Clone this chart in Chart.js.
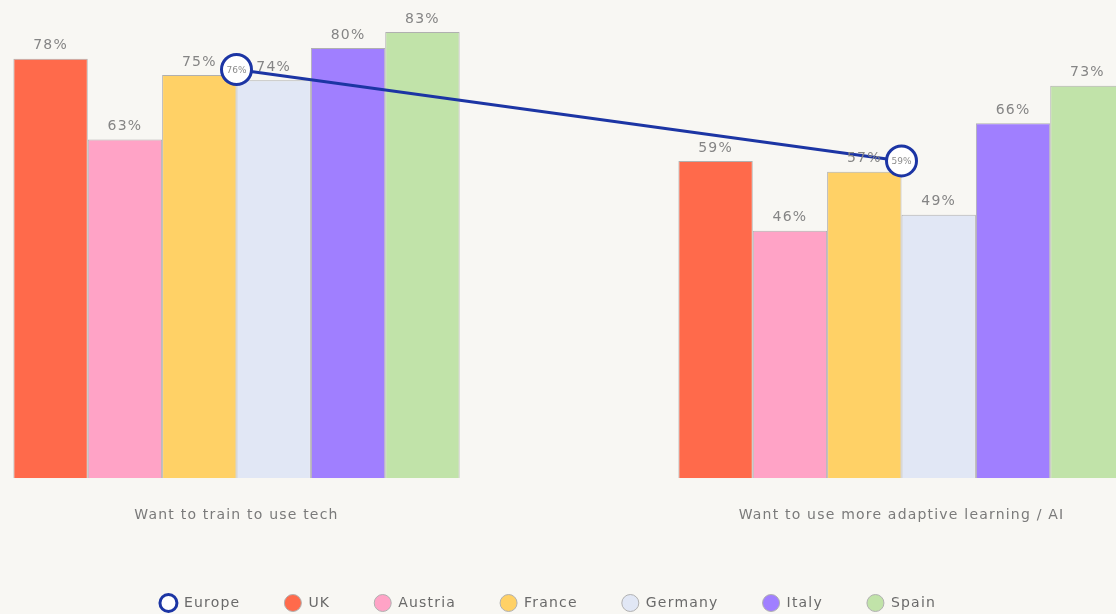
<!DOCTYPE html>
<html>
<head>
<meta charset="utf-8">
<script src="https://cdn.jsdelivr.net/npm/chart.js@4"></script>
<style>
  html, body { margin: 0; padding: 0; background: #f8f7f3; overflow: hidden; }
  body { width: 1116px; height: 614px; position: relative; }
  #wrap { position: absolute; left: -96px; top: 0; width: 1330px; height: 621px; }
</style>
</head>
<body>
<div id="wrap"><canvas id="miGrafica"></canvas></div>
<script>
'use strict'

// DATOS DEL GRAFICO
const categorias = ['Want to train to use tech', 'Want to use more adaptive learning / AI'];
const europa = [76, 59];
const uk = [78, 59];
const austria = [63, 46];
const francia = [75, 57];
const alemania = [74, 49];
const italia = [80, 66];
const espana = [83, 73];

const fuente = 'DejaVu Sans';
const grisTexto = '#858585';
const borde = '#b0b0b0';
const espaciado = '1.2px';

function serieBarra(nombre, datos, color) {
  return {
    type: 'bar',
    label: nombre,
    data: datos,
    backgroundColor: color,
    borderColor: borde,
    borderWidth: 1,
    order: 1
  };
}

// ESPACIADO DE LETRAS PARA TODO EL CANVAS
const espaciadoLetras = {
  id: 'espaciadoLetras',
  beforeLayout(chart) { chart.ctx.letterSpacing = espaciado; },
  beforeDraw(chart) { chart.ctx.letterSpacing = espaciado; }
};

// ETIQUETAS DE VALORES ENCIMA DE LAS BARRAS Y DENTRO DE LOS PUNTOS
const etiquetas = {
  id: 'etiquetas',
  afterDatasetsDraw(chart) {
    const ctx = chart.ctx;
    ctx.save();
    ctx.textAlign = 'center';
    ctx.textBaseline = 'middle';
    chart.data.datasets.forEach((ds, i) => {
      const meta = chart.getDatasetMeta(i);
      meta.data.forEach((el, j) => {
        if (ds.type === 'line') {
          ctx.letterSpacing = '0px';
          ctx.font = '9px ' + fuente;
          ctx.fillStyle = '#8c8c8c';
          ctx.fillText(ds.data[j] + '%', el.x, el.y + 1);
        } else {
          ctx.letterSpacing = espaciado;
          ctx.font = '14px ' + fuente;
          ctx.fillStyle = grisTexto;
          ctx.fillText(ds.data[j] + '%', el.x, el.y - 13);
        }
      });
    });
    ctx.restore();
  }
};

// MUEVO LA LEYENDA A SU SITIO
const moverLeyenda = {
  id: 'moverLeyenda',
  afterLayout(chart) {
    const lg = chart.legend;
    const dx = -21, dy = -1;
    lg.left += dx; lg.right += dx;
    lg.top += dy; lg.bottom += dy;
  }
};

function crearGrafica() {
  const ctx = document.getElementById('miGrafica').getContext('2d');
  new Chart(ctx, {
    data: {
      labels: categorias,
      datasets: [
        {
          type: 'line',
          label: 'Europe',
          data: europa,
          borderColor: '#1c35a4',
          borderWidth: 3,
          backgroundColor: '#ffffff',
          pointBackgroundColor: '#ffffff',
          pointBorderColor: '#1c35a4',
          pointBorderWidth: 3,
          pointRadius: 15,
          pointHoverRadius: 15,
          pointStyle: 'circle',
          order: 0
        },
        serieBarra('UK', uk, '#ff6a4b'),
        serieBarra('Austria', austria, '#ffa3c6'),
        serieBarra('France', francia, '#ffd166'),
        serieBarra('Germany', alemania, '#e1e7f5'),
        serieBarra('Italy', italia, '#a07fff'),
        serieBarra('Spain', espana, '#c1e3a9')
      ]
    },
    options: {
      responsive: true,
      maintainAspectRatio: false,
      animation: false,
      categoryPercentage: 0.671,
      barPercentage: 1,
      layout: { autoPadding: false, padding: { top: 5, left: 0, right: 0, bottom: 0 } },
      scales: {
        x: {
          grid: { display: false, drawTicks: false },
          border: { display: false },
          ticks: { color: '#7a7a7a', font: { family: fuente, size: 14 }, padding: 29 }
        },
        y: {
          display: false,
          min: 0,
          max: 88
        }
      },
      plugins: {
        legend: {
          position: 'bottom',
          labels: {
            usePointStyle: true,
            pointStyle: 'circle',
            pointStyleWidth: 17,
            boxHeight: 12,
            padding: 44,
            color: '#6a6a6a',
            font: { family: fuente, size: 14 }
          }
        },
        tooltip: { enabled: false }
      }
    },
    plugins: [espaciadoLetras, etiquetas, moverLeyenda]
  });
}

crearGrafica();
</script>
</body>
</html>
